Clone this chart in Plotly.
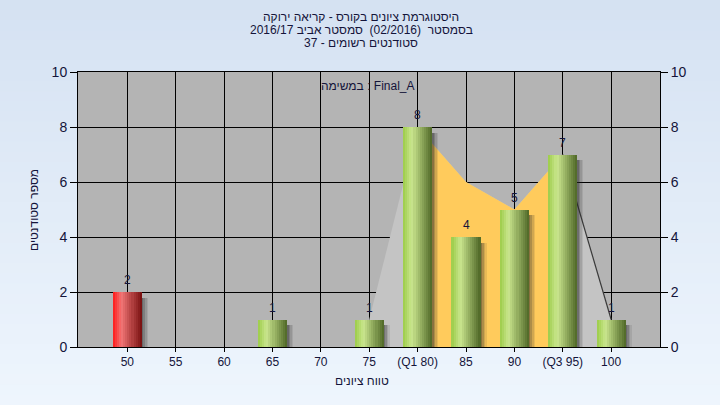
import plotly.graph_objects as go

# ---------------- data ----------------
categories = [50, 55, 60, 65, 70, 75, 80, 85, 90, 95, 100]
tick_labels = ["50", "55", "60", "65", "70", "75", "(Q1 80)", "85", "90", "(Q3 95)", "100"]
bar_x = [50, 65, 75, 80, 85, 90, 95, 100]
bar_y = [2, 1, 1, 8, 4, 5, 7, 1]
bar_fail = [True, False, False, False, False, False, False, False]
curve_x = [75, 80, 85, 90, 95, 100]
curve_y = [1, 8, 6, 5, 7, 1]
iqr_x = [80, 85, 90, 95]
iqr_y = [8, 6, 5, 7]
tail_x = [95, 100]
tail_y = [7, 1]

title_lines = [
    "היסטוגרמת ציונים בקורס - קריאה ירוקה",
    "בסמסטר  (02/2016)  סמסטר אביב 2016/17",
    "סטודנטים רשומים - 37",
]
task_label = "במשימה : Final_A"
x_title = "טווח ציונים"
y_title = "מספר סטודנטים"

# ---------------- styling helpers ----------------
BAR_W = 3.0
N_STRIPS = 14


def lerp(c1, c2, t):
    return tuple(round(a + (b - a) * t) for a, b in zip(c1, c2))


def grad(stops, t):
    for (t0, c0), (t1, c1) in zip(stops, stops[1:]):
        if t <= t1:
            return lerp(c0, c1, (t - t0) / (t1 - t0) if t1 > t0 else 0)
    return stops[-1][1]


green_stops = [(0.0, (155, 204, 72)), (0.3, (202, 230, 142)), (1.0, (78, 102, 38))]
red_stops = [(0.0, (255, 25, 25)), (0.3, (242, 118, 118)), (1.0, (118, 14, 14))]

fig = go.Figure()

# distribution area (light gray) and interquartile area (yellow) on the base y axis
fig.add_trace(go.Scatter(x=curve_x, y=curve_y, mode="lines", fill="tozeroy",
                         fillcolor="#c4c4c4", line=dict(width=0, color="#c4c4c4"),
                         hoverinfo="skip", showlegend=False))
fig.add_trace(go.Scatter(x=iqr_x, y=iqr_y, mode="lines", fill="tozeroy",
                         fillcolor="#ffcb5c", line=dict(width=0, color="#ffcb5c"),
                         hoverinfo="skip", showlegend=False))
fig.add_trace(go.Scatter(x=tail_x, y=tail_y, mode="lines",
                         line=dict(width=1.2, color="#3a3a3a"),
                         hoverinfo="skip", showlegend=False))

# bar shadows (on overlaying axis so they sit above the areas)
shadow_alpha = [0.55, 0.38, 0.22, 0.1]
sw = 0.16
for i, a in enumerate(shadow_alpha):
    fig.add_trace(go.Bar(x=bar_x, y=[v - 0.2 for v in bar_y], yaxis="y2",
                         width=[sw] * len(bar_x), offset=[BAR_W / 2 + i * sw] * len(bar_x),
                         marker=dict(color=f"rgba(40,40,40,{a})", line=dict(width=0)),
                         hoverinfo="skip", showlegend=False))

# bars drawn as gradient strips
sw = BAR_W / N_STRIPS
for i in range(N_STRIPS):
    t = (i + 0.5) / N_STRIPS
    cg = "rgb(%d,%d,%d)" % grad(green_stops, t)
    cr = "rgb(%d,%d,%d)" % grad(red_stops, t)
    colors = [cr if f else cg for f in bar_fail]
    fig.add_trace(go.Bar(x=bar_x, y=bar_y, yaxis="y2",
                         width=[sw * 1.05] * len(bar_x),
                         offset=[-BAR_W / 2 + i * sw] * len(bar_x),
                         marker=dict(color=colors, line=dict(width=0)),
                         hoverinfo="skip", showlegend=False))

# background gradient (page) + plot area background as shapes
shapes = []
n_bands = 40
py_top = 347 / 275
py_bot = (347 - 405) / 275
for k in range(n_bands):
    y0 = py_bot + (py_top - py_bot) * k / n_bands
    y1 = py_bot + (py_top - py_bot) * (k + 1) / n_bands + 0.002
    t = k / (n_bands - 1)  # 0 bottom -> 1 top
    c = lerp((238, 245, 253), (213, 226, 242), t)
    shapes.append(dict(type="rect", xref="paper", yref="paper", x0=-0.2, x1=1.2,
                       y0=y0, y1=y1, line=dict(width=0),
                       fillcolor="rgb(%d,%d,%d)" % c, layer="below"))
shapes.append(dict(type="rect", xref="paper", yref="paper", x0=0, x1=1, y0=0, y1=1,
                   line=dict(width=0), fillcolor="#b4b4b4", layer="below"))

font_main = "Liberation Sans, Arial, sans-serif"
txt_color = "#14143a"

annotations = []
# value labels above bars
for xv, yv in zip(bar_x, bar_y):
    annotations.append(dict(text=str(yv), x=xv, y=yv, xref="x", yref="y2",
                            showarrow=False, xanchor="center", yanchor="bottom", yshift=3,
                            font=dict(family=font_main, size=12, color=txt_color)))
for j, line in enumerate(title_lines):
    annotations.append(dict(text=line, xref="paper", yref="paper",
                            x=(361 - 78) / 582, y=(347 - (17 + 13 * j)) / 275,
                            showarrow=False, xanchor="center", yanchor="middle",
                            font=dict(family=font_main, size=12, color=txt_color)))
annotations.append(dict(text=task_label, xref="paper", yref="paper",
                        x=(368 - 78) / 582, y=(347 - 86) / 275, showarrow=False,
                        xanchor="center", yanchor="middle",
                        font=dict(family=font_main, size=12, color=txt_color)))
annotations.append(dict(text=x_title, xref="paper", yref="paper",
                        x=(362 - 78) / 582, y=(347 - 381) / 275, showarrow=False,
                        xanchor="center", yanchor="middle",
                        font=dict(family=font_main, size=12, color=txt_color)))
annotations.append(dict(text=y_title, xref="paper", yref="paper",
                        x=(34 - 78) / 582, y=(347 - 210) / 275, showarrow=False,
                        textangle=-90, xanchor="center", yanchor="middle",
                        font=dict(family=font_main, size=12, color=txt_color)))

fig.update_layout(
    width=720, height=405,
    margin=dict(l=78, r=60, t=72, b=58),
    paper_bgcolor="#e4edf8",
    plot_bgcolor="rgba(0,0,0,0)",
    barmode="overlay",
    bargap=0,
    shapes=shapes,
    annotations=annotations,
    showlegend=False,
    xaxis=dict(range=[44.9, 105.05], tickmode="array", tickvals=categories,
               ticktext=tick_labels, showgrid=True, gridcolor="black", gridwidth=1,
               showline=True, linecolor="black", linewidth=1, mirror=True,
               ticks="outside", ticklen=4, tickcolor="black", zeroline=False,
               tickfont=dict(family=font_main, size=12, color=txt_color), fixedrange=True),
    yaxis=dict(range=[0, 10], dtick=2, tick0=0, showgrid=True, gridcolor="black",
               gridwidth=1, showline=True, linecolor="black", linewidth=1,
               ticks="outside", ticklen=7, tickcolor="black", zeroline=False,
               tickfont=dict(family=font_main, size=14, color=txt_color), fixedrange=True),
    yaxis2=dict(range=[0, 10], dtick=2, tick0=0, overlaying="y", side="right",
                showgrid=False, showline=True, linecolor="black", linewidth=1,
                ticks="outside", ticklen=7, tickcolor="black", zeroline=False,
                tickfont=dict(family=font_main, size=14, color=txt_color), fixedrange=True),
)

fig.write_html("out.html", config={"displayModeBar": False},
               post_script="document.body.style.margin='0';")
